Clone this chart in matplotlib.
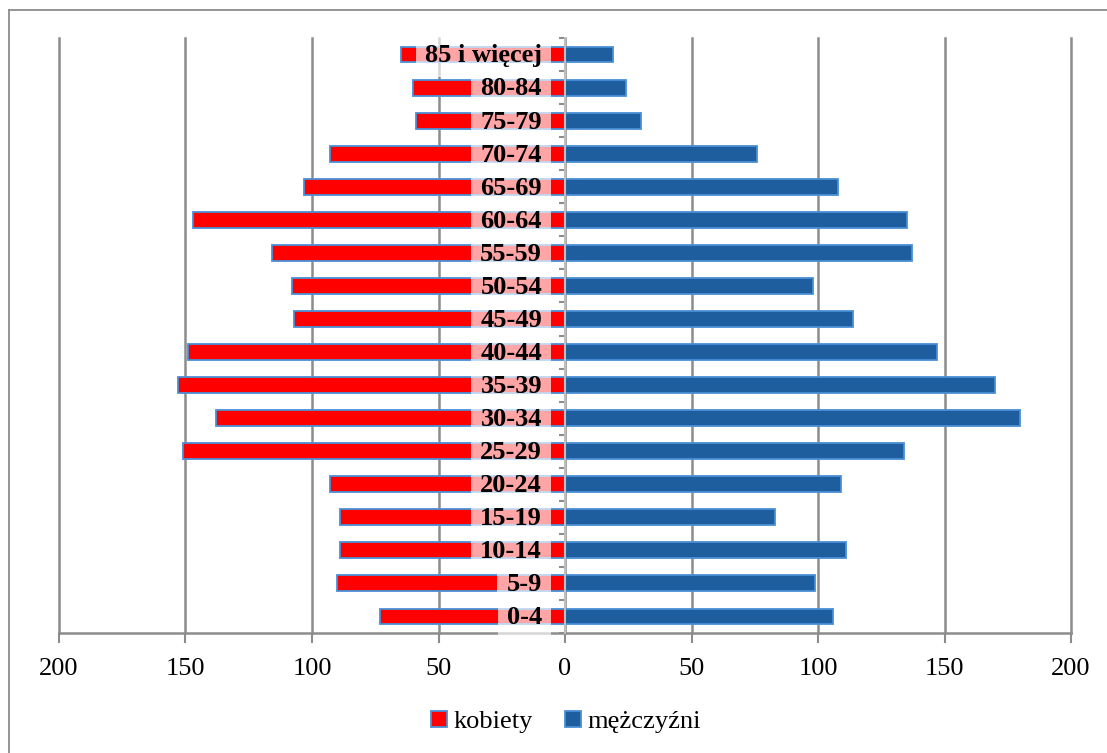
import matplotlib
matplotlib.use("Agg")
import matplotlib.pyplot as plt
from matplotlib.lines import Line2D
from matplotlib.patches import Patch
import numpy as np

age_groups = ["0-4", "5-9", "10-14", "15-19", "20-24", "25-29", "30-34", "35-39",
              "40-44", "45-49", "50-54", "55-59", "60-64", "65-69", "70-74",
              "75-79", "80-84", "85 i więcej"]
kobiety = [73, 90, 89, 89, 93, 151, 138, 153, 149, 107, 108, 116, 147, 103, 93, 59, 60, 65]
mezczyzni = [106, 99, 111, 83, 109, 134, 180, 170, 147, 114, 98, 137, 135, 108, 76, 30, 24, 19]
x_ticks = [-200, -150, -100, -50, 0, 50, 100, 150, 200]
x_tick_labels = ["200", "150", "100", "50", "0", "50", "100", "150", "200"]

plt.rcParams['font.family'] = ['Liberation Serif', 'DejaVu Serif']

W, H = 1107, 753
fig = plt.figure(figsize=(W / 100, H / 100), dpi=100)
ax = fig.add_axes([59 / W, 1 - 633 / H, (1071 - 59) / W, (633 - 38) / H])

red = "#FF0000"
blue = "#1F5E9E"
edge = "#4A8FD6"
grid_c = "#8C8C8C"

y = np.arange(len(age_groups))
ax.barh(y, -np.array(kobiety), height=0.48, color=red, edgecolor=edge, linewidth=1.3,
        zorder=3, label="kobiety")
ax.barh(y, mezczyzni, height=0.48, color=blue, edgecolor=edge, linewidth=1.3,
        zorder=3, label="mężczyźni")

ax.set_xlim(-200, 200)
ax.set_ylim(-0.5, len(age_groups) - 0.5)
ax.set_xticks(x_ticks)
ax.set_xticklabels(x_tick_labels, fontsize=19)
ax.tick_params(axis='x', length=7, width=1.5, color=grid_c, pad=11)

ax.set_yticks(np.arange(-0.5, len(age_groups), 1.0))
ax.set_yticklabels([])
ax.tick_params(axis='y', length=4, width=1.5, color=grid_c, direction='out')

ax.xaxis.grid(True, color=grid_c, linewidth=1.8, zorder=0)
ax.set_axisbelow(True)
for gl in ax.get_xgridlines():
    gl.set_clip_on(False)

for s in ['top', 'right']:
    ax.spines[s].set_visible(False)
ax.spines['left'].set_position(('data', 0))
ax.spines['left'].set_color("#BFBFBF")
ax.spines['left'].set_linewidth(1.5)
ax.spines['left'].set_zorder(4)
ax.spines['bottom'].set_color(grid_c)
ax.spines['bottom'].set_linewidth(1.8)

for i, lab in enumerate(age_groups):
    ax.annotate(lab, xy=(0, i), xytext=(-16.5, -1), textcoords='offset points',
                ha='right', va='center', fontsize=19, fontweight='bold', color='black',
                zorder=5,
                bbox=dict(boxstyle='square,pad=0.35', facecolor='white', alpha=0.65,
                          edgecolor='none'))

handles = [Patch(facecolor=red, edgecolor=edge, linewidth=1.3),
           Patch(facecolor=blue, edgecolor=edge, linewidth=1.3)]
fig.legend(handles, ["kobiety", "mężczyźni"], loc='center',
           bbox_to_anchor=(566 / W, 1 - 722 / H), ncol=2, frameon=False,
           fontsize=19, handlelength=0.6, handleheight=0.6, handletextpad=0.25,
           columnspacing=1.2)

# outer chart frame
fig.add_artist(Line2D([8.5 / W, 1.0], [1 - 9.5 / H, 1 - 9.5 / H], color=grid_c, lw=1.3,
                      transform=fig.transFigure))
fig.add_artist(Line2D([8.5 / W, 8.5 / W], [1 - 9.5 / H, 0.0], color=grid_c, lw=1.3,
                      transform=fig.transFigure))

fig.savefig("out.png", dpi=100)
